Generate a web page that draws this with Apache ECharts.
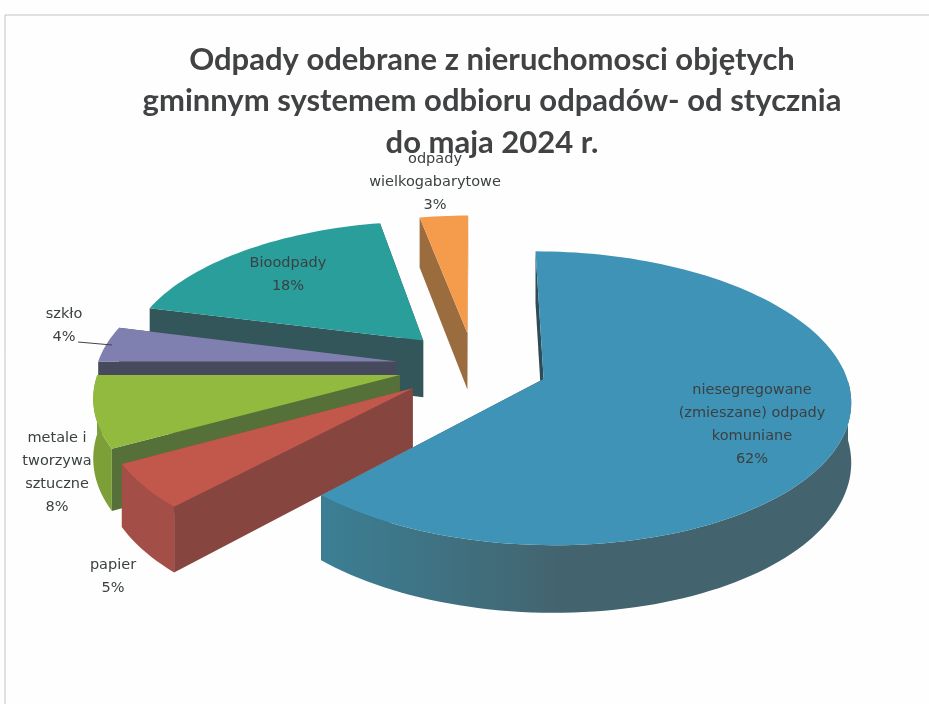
<!DOCTYPE html>
<html>
<head>
    <meta charset="UTF-8">
    <title>Odpady odebrane</title>
    <script src="https://cdn.jsdelivr.net/npm/echarts@6/dist/echarts.min.js"></script>
    <style>
        html, body { margin: 0; padding: 0; background: #fff; }
        #main { width: 929px; height: 704px; }
    </style>
</head>
<body>
<div id="main"></div>
<script type="text/javascript">
    // dane wykresu (w kolejnosci zgodnej z ruchem wskazowek, od godziny 12)
    var names = [
        'niesegregowane\n(zmieszane) odpady\nkomuniane',
        'papier',
        'metale i\ntworzywa\nsztuczne',
        'szkło',
        'Bioodpady',
        'odpady\nwielkogabarytowe'
    ];
    var values = [62, 5, 8, 4, 18, 3];
    var titleLines = [
        'Odpady odebrane z nieruchomosci objętych',
        'gminnym systemem odbioru odpadów- od stycznia',
        'do maja 2024 r.'
    ];

    // kolory: wierzch, sciana promieniowa, sciana zewnetrzna
    var faceColors = ['#3f93b6', '#c2574b', '#92ba3e', '#8080b0', '#2a9e9b', '#f59b4c'];
    var sideColors = ['#2f4b55', '#86463f', '#56703a', '#474a5c', '#33565a', '#9a6c3e'];
    var rimColors = [
        new echarts.graphic.LinearGradient(320, 0, 560, 0, [
            { offset: 0, color: '#3b7f95' },
            { offset: 1, color: '#43646f' }
        ], true),
        '#a34f47', '#7c9f38', '#5a5a78', '#33565a', '#b07a42'
    ];

    // srodki etykiet na obrazku i wysuniecie wycinkow
    var labelPos = [[752, 425], [113, 577], [57, 473], [64, 326], [288, 275], [435, 182]];
    var explodes = [74, 76, 76, 78, 76, 72];

    // rzut perspektywiczny kola
    var cx = 474, cy = 366, radius = 300, tilt = 0.47, persp = 0.13, depth = 58;

    var total = values.reduce(function (a, b) { return a + b; }, 0);

    function project(wx, wy, z) {
        var s = 1 / (1 - persp * wy / radius);
        return [cx + wx * s, cy + wy * tilt * s + z * depth * s];
    }

    function renderSlice(params, api) {
        var i = params.dataIndex;
        var before = 0;
        for (var k = 0; k < i; k++) before += values[k];
        var a0 = before / total * Math.PI * 2;
        var a1 = (before + api.value(0)) / total * Math.PI * 2;
        var mid = (a0 + a1) / 2;
        var ox = explodes[i] * Math.sin(mid), oy = -explodes[i] * Math.cos(mid);

        var top = [], rimTop = [], rimBottom = [];
        var steps = Math.max(4, Math.ceil((a1 - a0) / 0.03));
        for (var j = 0; j <= steps; j++) {
            var a = a0 + (a1 - a0) * j / steps;
            var wx = ox + radius * Math.sin(a), wy = oy - radius * Math.cos(a);
            top.push(project(wx, wy, 0));
            // sciana zewnetrzna widoczna tylko z przodu
            if (Math.cos(a) < 0) {
                rimTop.push(project(wx, wy, 0));
                rimBottom.push(project(wx, wy, 1));
            }
        }
        var apex = project(ox, oy, 0), apexBottom = project(ox, oy, 1);
        var firstBottom = project(ox + radius * Math.sin(a0), oy - radius * Math.cos(a0), 1);
        var lastBottom = project(ox + radius * Math.sin(a1), oy - radius * Math.cos(a1), 1);

        // kolejnosc malowania: od tylu do przodu, czyli odwrotnie niz dane
        var order = (values.length - i) * 10;
        var children = [
            { type: 'polygon', z2: order, shape: { points: [apex, top[0], firstBottom, apexBottom] }, style: { fill: sideColors[i] } },
            { type: 'polygon', z2: order, shape: { points: [apex, top[steps], lastBottom, apexBottom] }, style: { fill: sideColors[i] } },
            { type: 'polygon', z2: order + 2, shape: { points: [apex].concat(top) }, style: { fill: faceColors[i] } },
            {
                type: 'text', z2: 200, x: labelPos[i][0], y: labelPos[i][1],
                style: {
                    text: names[i] + '\n' + api.value(0) + '%',
                    fill: '#3b4142', font: '14.5px "DejaVu Sans"', lineHeight: 23,
                    align: 'center', verticalAlign: 'middle'
                }
            }
        ];
        if (rimTop.length > 1) {
            children.push({ type: 'polygon', z2: order + 1, shape: { points: rimTop.concat(rimBottom.reverse()) }, style: { fill: rimColors[i] } });
        }
        return { type: 'group', children: children };
    }

    var myChart = echarts.init(document.getElementById('main'), null, { renderer: 'canvas' });

    var option = {
        animation: false,
        backgroundColor: '#fefefe',
        title: {
            text: titleLines.join('\n'),
            left: 487,
            top: 34,
            textAlign: 'center',
            textStyle: {
                fontFamily: 'Lato',
                fontWeight: 'bold',
                fontSize: 31,
                lineHeight: 41.5,
                color: '#404243'
            }
        },
        graphic: [
            { type: 'polyline', shape: { points: [[5, 704], [5, 15], [929, 15]] }, style: { fill: null, stroke: '#c4c4c4', lineWidth: 1 } },
            { type: 'line', z: 10, shape: { x1: 78, y1: 342, x2: 112, y2: 345 }, style: { stroke: '#444', lineWidth: 1 } }
        ],
        series: [{
            type: 'custom',
            coordinateSystem: 'none',
            renderItem: renderSlice,
            data: values.map(function (v) { return [v]; })
        }]
    };

    myChart.setOption(option);
</script>
</body>
</html>
